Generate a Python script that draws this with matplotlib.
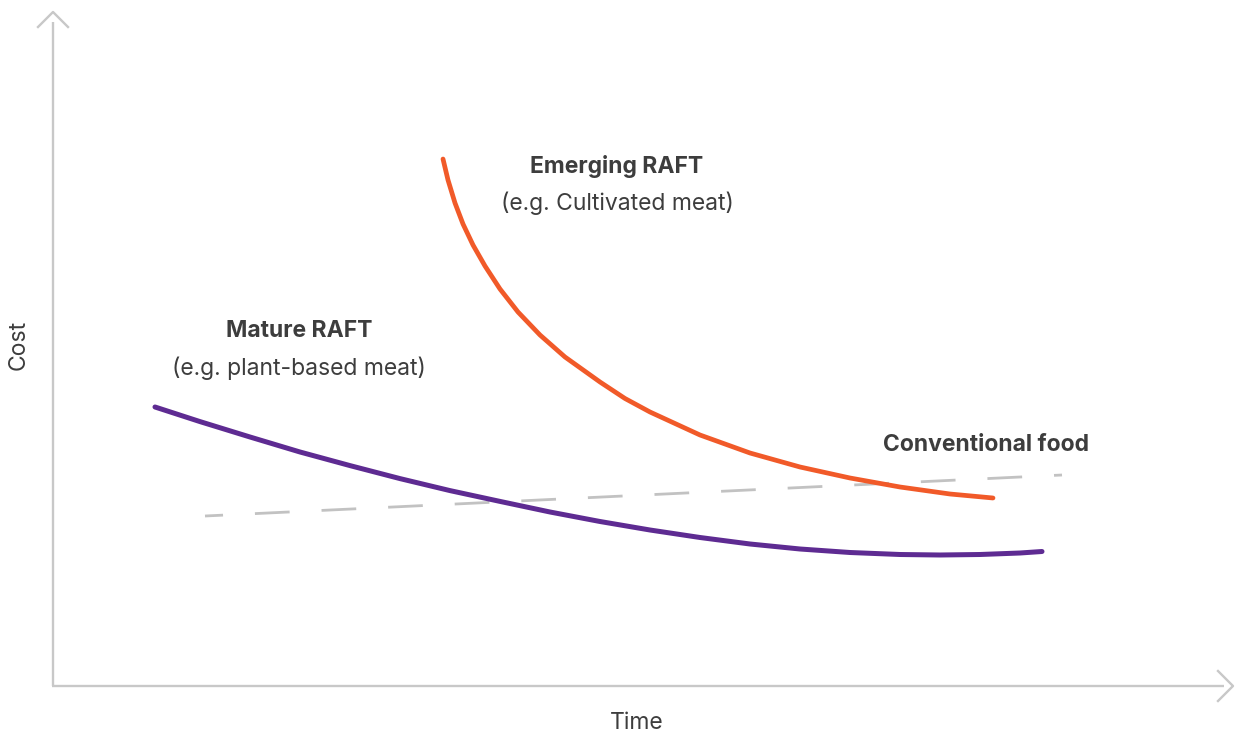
import numpy as np
import matplotlib.pyplot as plt

plt.rcParams['font.family'] = ['Inter', 'DejaVu Sans']

# cost curves (time, cost) in arbitrary units from the origin
mature_t = [103, 148, 198, 248, 298, 348, 398, 448, 498, 548,
            598, 648, 698, 748, 798, 848, 888, 928, 968, 990]
mature_c = [279, 264.4, 249, 234, 220.4, 207.4, 195.4, 184.6, 174, 164.5,
            156, 148.5, 142, 137, 133.5, 131.5, 131, 131.5, 133, 134.5]

emerging_t = [391, 396, 403, 411, 421, 433, 448, 466, 488, 513,
              548, 573, 598, 648, 698, 748, 798, 848, 898, 941]
emerging_c = [527, 506, 483, 462, 441, 420, 397, 374, 351, 329,
              304, 287.5, 274, 251, 233, 219, 208, 199, 192, 188]

conv_t = [153, 1010]
conv_c = [170, 211]

TEXT = '#3d3d3d'
AXIS = '#c8c8c8'
ORANGE = '#f15a29'
PURPLE = '#5e2b92'

W, H = 1235, 735
fig = plt.figure(figsize=(W / 100, H / 100), dpi=100)
# axes origin at the corner of the two arrows
x0, y0 = 52, 686
ax = fig.add_axes([x0 / W, (H - y0) / H, (W - x0) / W, y0 / H])
ax.set_xlim(0, W - x0)
ax.set_ylim(0, y0)
ax.axis('off')

# axes with open chevron heads
kw = dict(color=AXIS, lw=1.7, clip_on=False)
ax.plot([0, 1172], [0, 0], solid_capstyle='butt', **kw)
ax.plot([1, 1], [0, 664], solid_capstyle='butt', **kw)
ax.plot([1166, 1181, 1166], [15, 0, -15], **kw)
ax.plot([-14, 1, 16], [659, 674, 659], **kw)

ax.plot(conv_t, conv_c, color='#c2c2c2', lw=2, linestyle=(6, (12.5, 11.5)),
        dash_capstyle='butt')
ax.plot(mature_t, mature_c, color=PURPLE, lw=3.6,
        solid_capstyle='round', solid_joinstyle='round')
ax.plot(emerging_t, emerging_c, color=ORANGE, lw=3.4,
        solid_capstyle='round', solid_joinstyle='round')

fs = 16.5
ax.text(565, 520, 'Emerging RAFT', ha='center', va='center', fontsize=fs,
        fontweight='bold', color=TEXT)
ax.text(565, 483, '(e.g. Cultivated meat)', ha='center', va='center',
        fontsize=fs, color=TEXT)
ax.text(247, 355, 'Mature RAFT', ha='center', va='center', fontsize=fs,
        fontweight='bold', color=TEXT)
ax.text(247, 318, '(e.g. plant-based meat)', ha='center', va='center',
        fontsize=fs, color=TEXT)
ax.text(934, 241, 'Conventional food', ha='center', va='center', fontsize=fs,
        fontweight='bold', color=TEXT)

fig.text(637 / W, 1 - 723 / H, 'Time', ha='center', va='center',
         fontsize=fs, color=TEXT)
fig.text(19 / W, 1 - 345 / H, 'Cost', ha='center', va='center',
         fontsize=fs, color=TEXT, rotation=90)

fig.savefig('out.png', dpi=100, facecolor='white')
